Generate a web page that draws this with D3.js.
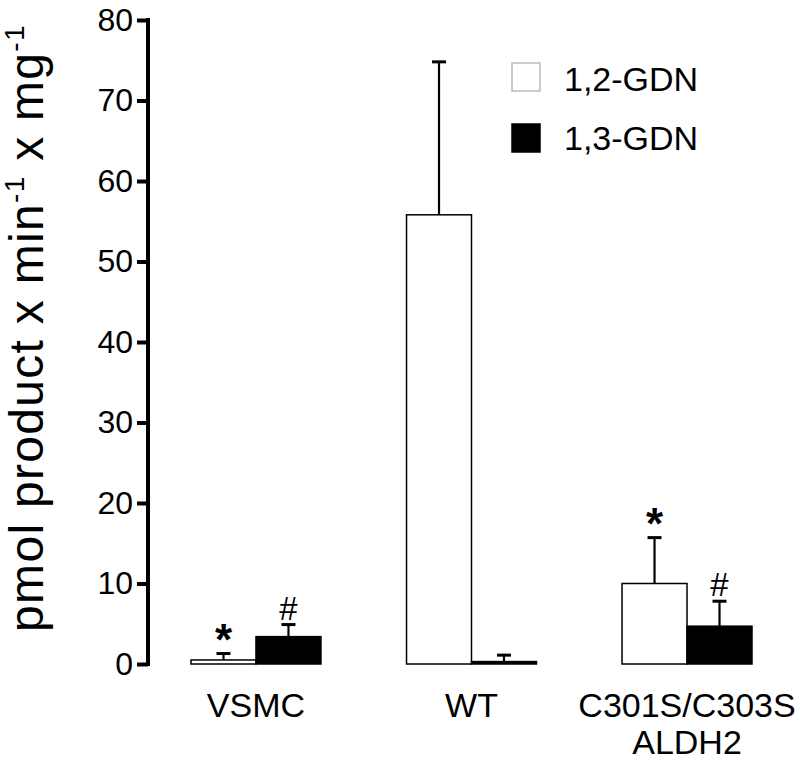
<!DOCTYPE html>
<html><head><meta charset="utf-8">
<script src="https://cdn.jsdelivr.net/npm/d3@7"></script>
<style>body{margin:0;background:#fff;}text{font-family:"Liberation Sans",Arial,sans-serif;}</style>
</head><body>
<svg id="c" width="800" height="761"></svg>
<script>
const categories = ["VSMC", "WT", "C301S/C303S\nALDH2"];
const series = ["1,2-GDN", "1,3-GDN"];
const gdn12 = [0.5, 55.8, 10.0];
const gdn12Err = [0.8, 19.0, 5.7];
const gdn13 = [3.4, 0.3, 4.7];
const gdn13Err = [1.5, 0.8, 3.1];
const marks12 = ["*", "", "*"];
const marks13 = ["#", "", "#"];
const yTicks = [0, 10, 20, 30, 40, 50, 60, 70, 80];

const FONT = "'Liberation Sans',Arial,sans-serif";
const svg = d3.select("#c");
const y = d3.scaleLinear().domain([0, 80]).range([664, 20]);
const x = d3.scaleBand().domain(categories).range([191, 752]).paddingInner(0.397).paddingOuter(0);
const xs = d3.scaleBand().domain(series).range([0, x.bandwidth()]);

// axis
const ax = svg.append("g").attr("transform", "translate(148,0)")
  .call(d3.axisLeft(y).tickValues(yTicks).tickSize(11).tickPadding(4));
ax.attr("font-size", null).attr("font-family", null);
ax.select(".domain").attr("stroke", "#000").attr("stroke-width", 4).attr("d", `M0,${y(80) - 2}V${y(0) + 2}`);
ax.selectAll(".tick line").attr("stroke", "#000").attr("stroke-width", 4);
ax.selectAll(".tick text").attr("font-size", 32).attr("fill", "#000").attr("font-family", FONT);

const data = [];
categories.forEach((c, i) => {
  data.push({c, s: series[0], v: gdn12[i], e: gdn12Err[i], m: marks12[i]});
  data.push({c, s: series[1], v: gdn13[i], e: gdn13Err[i], m: marks13[i]});
});

const g = svg.append("g");
data.forEach(d => {
  const bx = x(d.c) + xs(d.s);
  const cx = bx + xs.bandwidth() / 2;
  const top = y(d.v + d.e);
  g.append("line").attr("x1", cx).attr("x2", cx).attr("y1", y(d.v)).attr("y2", top)
    .attr("stroke", "#000").attr("stroke-width", 2.2);
  g.append("line").attr("x1", cx - 7).attr("x2", cx + 7).attr("y1", top).attr("y2", top)
    .attr("stroke", "#000").attr("stroke-width", 3);
  g.append("rect").attr("x", bx).attr("y", y(d.v)).attr("width", xs.bandwidth())
    .attr("height", y(0) - y(d.v))
    .attr("fill", d.s === series[0] ? "#fff" : "#000").attr("stroke", "#000").attr("stroke-width", 1.5);
  if (d.m === "*") {
    g.append("text").attr("x", cx).attr("y", top + 1).attr("text-anchor", "middle")
      .attr("font-size", 44).attr("font-weight", "bold").attr("font-family", FONT).text("*");
  } else if (d.m === "#") {
    g.append("text").attr("x", cx).attr("y", top - 5).attr("text-anchor", "middle")
      .attr("font-size", 33).attr("font-family", "'Liberation Serif','Times New Roman',serif").text("#");
  }
});

// category labels
categories.forEach(c => {
  const lines = c.split("\n");
  const cx = x(c) + x.bandwidth() / 2;
  const t = svg.append("text").attr("x", cx).attr("y", 717)
    .attr("text-anchor", "middle").attr("font-size", 34);
  lines.forEach((l, i) => t.append("tspan").attr("x", cx).attr("dy", i ? 37 : 0).text(l));
});

// y title
const yt = svg.append("text").attr("transform", "translate(43,328) rotate(-90)")
  .attr("text-anchor", "middle").attr("font-size", 48).attr("letter-spacing", 1.3);
yt.append("tspan").text("pmol product x min");
yt.append("tspan").attr("font-size", 28).attr("dy", -19).text("-1");
yt.append("tspan").attr("dy", 19).text(" x mg");
yt.append("tspan").attr("font-size", 28).attr("dy", -19).text("-1");

// legend
const leg = svg.append("g");
series.forEach((s, i) => {
  leg.append("rect").attr("x", 512).attr("y", 63 + i * 61).attr("width", 28).attr("height", 28)
    .attr("fill", i ? "#000" : "#fff").attr("stroke", i ? "#000" : "#bbb").attr("stroke-width", 1.5);
  leg.append("text").attr("x", 564).attr("y", 91 + i * 59).attr("font-size", 34).text(s);
});
</script>
</body></html>
